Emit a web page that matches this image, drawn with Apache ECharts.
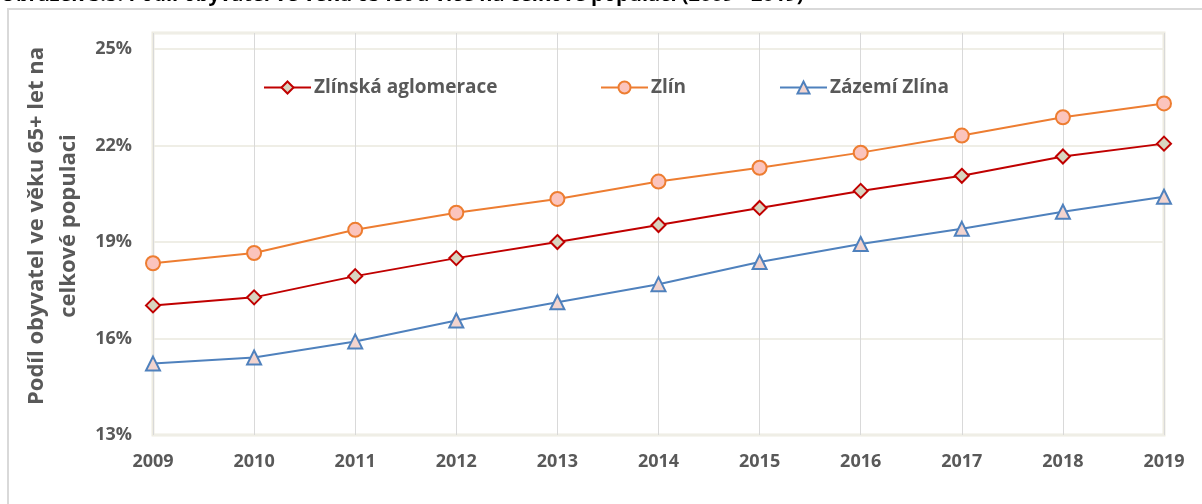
<!DOCTYPE html>
<html>
<head>
<meta charset="utf-8">
<script src="https://cdn.jsdelivr.net/npm/echarts@6/dist/echarts.min.js"></script>
<style>
    html,body{margin:0;padding:0;background:#fff;}
    #chart{width:1202px;height:504px;}
</style>
</head>
<body>
<div id="chart"></div>
<script>
//data
var years=["2009","2010","2011","2012","2013","2014","2015","2016","2017","2018","2019"];
var aglomerace=[17.03,17.28,17.94,18.50,19.00,19.53,20.06,20.59,21.06,21.66,22.06];
var zlin=[18.34,18.66,19.38,19.91,20.34,20.88,21.31,21.78,22.31,22.88,23.31];
var zazemi=[15.22,15.41,15.91,16.56,17.13,17.69,18.38,18.94,19.41,19.94,20.41];
var names=["Zlínská aglomerace","Zlín","Zázemí Zlína"];

var FONT="'Open Sans', 'Noto Sans', sans-serif";
var GREY="#595959";

function legendAt(name,left)
{
    return {
        data:[name],
        left:left,
        top:78,
        padding:0,
        itemWidth:47,
        itemHeight:15,
        itemGap:0,
        textStyle:{fontFamily:FONT,fontWeight:"bold",fontSize:19,color:GREY,padding:[0,0,0,-2]}
    };
}

function lineSeries(name,data,color,symbol,fill)
{
    return {
        name:name,
        type:"line",
        data:data,
        symbol:symbol,
        symbolSize:14,
        lineStyle:{color:color,width:2},
        itemStyle:{color:fill,borderColor:color,borderWidth:2},
        emphasis:{disabled:true},
        animation:false
    };
}

var myChart=echarts.init(document.getElementById("chart"));

var option={
    backgroundColor:"#fff",
    graphic:[
        {
            type:"rect",
            z:-10,
            shape:{x:8,y:9,width:1300,height:600},
            style:{fill:"none",stroke:"#d9d9d9",lineWidth:2}
        },
        {
            type:"text",
            x:0,
            y:0,
            style:{
                text:"Obrázek 3.5: Podíl obyvatel ve věku 65 let a více na celkové populaci (2009 - 2019)",
                x:0,
                y:5,
                verticalAlign:"bottom",
                font:"bold 20px "+FONT,
                fill:"#000"
            }
        }
    ],
    legend:[
        legendAt(names[0],263),
        legendAt(names[1],600),
        legendAt(names[2],779)
    ],
    grid:{
        left:153,
        right:38,
        top:33,
        bottom:69,
        show:true,
        borderColor:"#eeece1",
        borderWidth:3
    },
    xAxis:{
        type:"category",
        data:years,
        boundaryGap:false,
        axisLine:{show:false},
        axisTick:{show:false},
        splitLine:{show:true,lineStyle:{color:"#d9d9d9",width:1}},
        axisLabel:{margin:18,fontFamily:FONT,fontWeight:"bold",fontSize:18,color:GREY}
    },
    yAxis:{
        type:"value",
        min:13,
        max:25.5,
        interval:3,
        name:"Podíl obyvatel ve věku 65+ let na\ncelkové populaci",
        nameLocation:"middle",
        nameRotate:90,
        nameGap:65,
        nameTextStyle:{fontFamily:FONT,fontWeight:"bold",fontSize:22,color:GREY,lineHeight:32,padding:[0,0,0,16]},
        axisLine:{show:false},
        axisTick:{show:false},
        splitLine:{lineStyle:{color:"#efeee6",width:2}},
        axisLabel:{
            margin:21,
            fontFamily:FONT,fontWeight:"bold",fontSize:18,color:GREY,
            formatter:function(v){ return (v%1===0)? v+"%" : ""; }
        }
    },
    series:[
        lineSeries(names[0],aglomerace,"#c00000","diamond","#d8d4c0"),
        lineSeries(names[1],zlin,"#ed7d31","circle","#fbc4bd"),
        lineSeries(names[2],zazemi,"#4f81bd","triangle","#f2d4cf")
    ]
};
myChart.setOption(option);
</script>
</body>
</html>
